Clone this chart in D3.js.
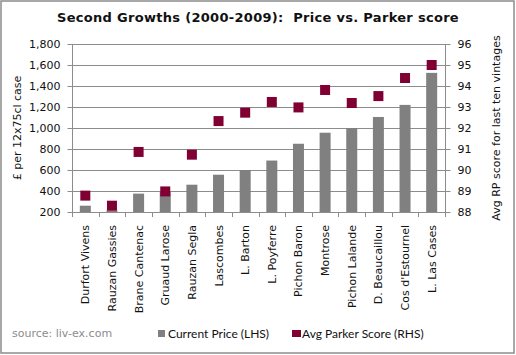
<!DOCTYPE html>
<html><head><meta charset="utf-8">
<script src="https://cdn.jsdelivr.net/npm/d3@7"></script>
<style>body{margin:0;background:#fff}svg{display:block}</style>
</head><body>
<script>
const categories = ["Durfort Vivens","Rauzan Gassies","Brane Cantenac","Gruaud Larose","Rauzan Segla","Lascombes","L. Barton","L. Poyferre","Pichon Baron","Montrose","Pichon Lalande","D. Beaucaillou","Cos d'Estournel","L. Las Cases"];
const prices = [260, 215, 375, 390, 460, 555, 600, 690, 850, 955, 1000, 1105, 1220, 1525];
const scores = [88.78, 88.3, 90.86, 88.98, 90.73, 92.33, 92.73, 93.24, 92.98, 93.81, 93.19, 93.52, 94.38, 95.0];
const leftTicks = [200,400,600,800,1000,1200,1400,1600,1800];
const rightTicks = [88,89,90,91,92,93,94,95,96];

const W=516,H=355;
const svg=d3.select("body").append("svg").attr("width",W).attr("height",H);
svg.append("rect").attr("x",1).attr("y",1).attr("width",513).attr("height",352)
  .attr("fill","#fff").attr("stroke","#8c8c8c").attr("stroke-width",1.5);

const L=72,R=445,T=44,B=212;
const x=d3.scaleBand().domain(categories).range([L,R]);
const yL=d3.scaleLinear().domain([200,1800]).range([B,T]);
const yR=d3.scaleLinear().domain([88,96]).range([B,T]);
const grid="#8c8c8c";
const font="Verdana, 'DejaVu Sans', sans-serif";

svg.append("text").attr("x",258).attr("y",22).attr("text-anchor","middle")
  .style("white-space","pre").attr("letter-spacing",0.3)
  .attr("font-family",font).attr("font-weight","bold").attr("font-size",13).attr("fill","#111")
  .text("Second Growths (2000-2009):  Price vs. Parker score");

// gridlines
svg.append("g").selectAll("line").data(leftTicks).join("line")
  .attr("x1",L).attr("x2",R).attr("y1",d=>Math.round(yL(d))+0.5).attr("y2",d=>Math.round(yL(d))+0.5)
  .attr("stroke",grid).attr("stroke-width",1);

// left axis
const gl=svg.append("g").attr("transform",`translate(${L+0.5},0)`)
  .call(d3.axisLeft(yL).tickValues(leftTicks).tickSize(5).tickPadding(7).tickFormat(d3.format(",")));
// right axis
const gr=svg.append("g").attr("transform",`translate(${R+0.5},0)`)
  .call(d3.axisRight(yR).tickValues(rightTicks).tickSize(5).tickPadding(7));
[gl,gr].forEach(g=>{
  g.select(".domain").attr("stroke",grid).attr("d",`M0,${T}V${B+5}`);
  g.selectAll(".tick line").attr("stroke",grid);
  g.selectAll(".tick text").attr("font-family",font).attr("font-size",11).attr("fill","#111");
});

// bottom axis
const gb=svg.append("g").attr("transform",`translate(0,${B+0.5})`)
  .call(d3.axisBottom(x).tickSize(0).tickPadding(0));
gb.select(".domain").attr("stroke",grid).attr("d",`M${L},0H${R}`);
gb.selectAll(".tick text").remove();
svg.append("g").selectAll("line").data(categories.concat(["_end"])).join("line")
  .attr("x1",(d,i)=>Math.round(L+i*x.step())+0.5).attr("x2",(d,i)=>Math.round(L+i*x.step())+0.5)
  .attr("y1",B).attr("y2",B+5).attr("stroke",grid);

// bars
const bw=11;
svg.append("g").selectAll("rect").data(prices).join("rect")
  .attr("x",(d,i)=>x(categories[i])+x.bandwidth()/2-bw/2)
  .attr("y",d=>yL(d)).attr("width",bw).attr("height",d=>B-yL(d)).attr("fill","#808080");

// markers
const ms=10;
svg.append("g").selectAll("rect").data(scores).join("rect")
  .attr("x",(d,i)=>x(categories[i])+x.bandwidth()/2-ms/2)
  .attr("y",d=>yR(d)-ms/2).attr("width",ms).attr("height",ms).attr("fill","#800033");

// category labels
svg.append("g").selectAll("text").data(categories).join("text")
  .attr("transform",(d)=>`translate(${x(d)+x.bandwidth()/2+4},225) rotate(-90)`)
  .attr("text-anchor","end").attr("font-family","Tahoma, 'DejaVu Sans', sans-serif").attr("font-size",11).attr("fill","#111")
  .text(d=>d);

// axis titles
svg.append("text").attr("transform",`translate(21,${(T+B)/2}) rotate(-90)`).attr("text-anchor","middle")
  .attr("font-family",font).attr("font-size",11).attr("fill","#111").text("£ per 12x75cl case");
svg.append("text").attr("transform",`translate(500,${(T+B)/2}) rotate(-90)`).attr("text-anchor","middle")
  .attr("font-family",font).attr("font-size",11).attr("fill","#111").text("Avg RP score for last ten vintages");

// source + legend
svg.append("text").attr("x",12).attr("y",337).attr("font-family",font).attr("font-size",11).attr("fill","#8c8c8c").text("source: liv-ex.com");
const legend=[{label:"Current Price (LHS)",color:"#808080",x:158,w:7},{label:"Avg Parker Score (RHS)",color:"#800033",x:292,w:9}];
legend.forEach(l=>{
  svg.append("rect").attr("x",l.x).attr("y",330).attr("width",l.w).attr("height",7).attr("fill",l.color);
  svg.append("text").attr("x",l.x+10).attr("y",338).attr("font-family","Lato, 'Open Sans', sans-serif").attr("font-size",12).attr("fill","#111").text(l.label);
});
</script>
</body></html>
